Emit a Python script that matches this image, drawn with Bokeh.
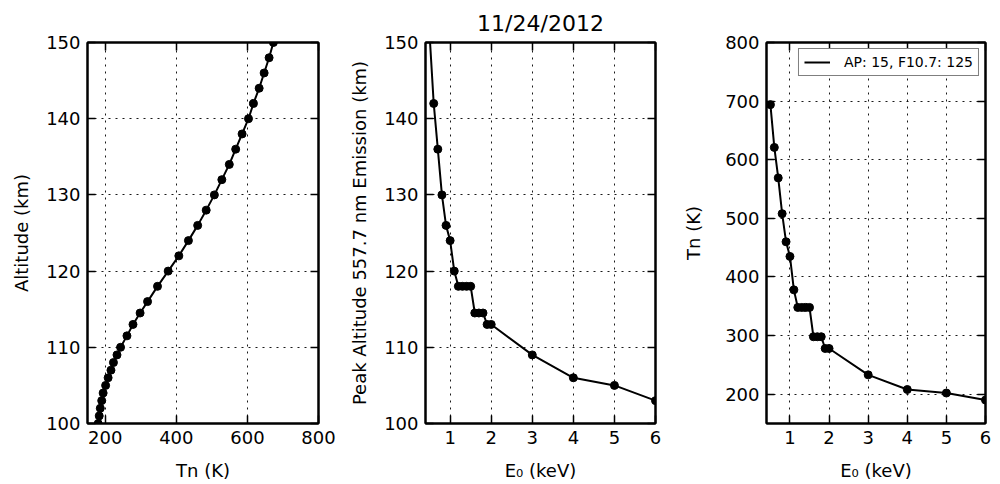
from bokeh.plotting import figure
from bokeh.layouts import row
from bokeh.models import LinearAxis, Range1d, FixedTicker
from bokeh.embed import file_html
from bokeh.resources import INLINE

# ---- data ----
profile_alt = [100, 101, 102, 103, 104, 105, 106, 107, 108, 109, 110, 111.5, 113, 114.5, 116,
               118, 120, 122, 124, 126, 128, 130, 132, 134, 136, 138, 140, 142, 144, 146, 148, 150]
profile_tn = [180, 183, 186, 190, 194, 201, 208, 216, 223, 233, 243, 261, 278, 298, 319,
              347, 377, 407, 434, 460, 484, 507, 528, 549, 567, 585, 603, 617, 633, 647, 661, 673]

e0 = [0.5, 0.6, 0.7, 0.8, 0.9, 1.0, 1.1, 1.2, 1.3, 1.4, 1.5, 1.6, 1.7, 1.8, 1.9, 2.0, 3, 4, 5, 6]
peak_alt = [151, 142, 136, 130, 126, 124, 120, 118, 118, 118, 118, 114.5, 114.5, 114.5,
            113, 113, 109, 106, 105, 103]
peak_tn = [694, 621, 569, 508, 460, 435, 378, 348, 348, 348, 348, 298, 298, 298,
           278, 278, 233, 208, 202, 190]

title_text = "11/24/2012"
legend_text = "AP: 15, F10.7: 125"
x1_ticks = [200, 400, 600, 800]
y1_ticks = [100, 110, 120, 130, 140, 150]
e_ticks = [1, 2, 3, 4, 5, 6]
y3_ticks = [200, 300, 400, 500, 600, 700, 800]

FONT = "DejaVu Sans"
H = 483
TOP = 42
BOTTOM = H - 423


def mirror_axis(ticks):
    return LinearAxis(ticker=FixedTicker(ticks=ticks),
                      major_label_text_font_size="1px", major_label_text_color=None,
                      major_label_standoff=0,
                      major_tick_in=8, major_tick_out=0, minor_tick_in=0, minor_tick_out=0,
                      major_tick_line_width=1.5, major_tick_line_color="black",
                      axis_line_width=2, axis_line_color="black")


def make_fig(width, left, right, xr, yr, xticks, yticks, xlabel, ylabel, ystand):
    p = figure(width=width, height=H, x_range=Range1d(*xr), y_range=Range1d(*yr),
               output_backend="svg", toolbar_location=None,
               min_border_left=left, min_border_right=right,
               min_border_top=TOP, min_border_bottom=BOTTOM)
    p.background_fill_color = "white"
    p.border_fill_color = "white"
    p.outline_line_color = "black"
    p.outline_line_width = 2
    for ax, ticks, lab in ((p.xaxis[0], xticks, xlabel), (p.yaxis[0], yticks, ylabel)):
        ax.ticker = FixedTicker(ticks=ticks)
        ax.axis_label = lab
        ax.axis_label_text_font = FONT
        ax.axis_label_text_font_size = "18px"
        ax.axis_label_text_font_style = "normal"
        ax.axis_label_text_color = "black"
        ax.major_label_text_font = FONT
        ax.major_label_text_font_size = "18px"
        ax.major_label_text_color = "black"
        ax.major_tick_in = 8
        ax.major_tick_out = 0
        ax.minor_tick_in = 0
        ax.minor_tick_out = 0
        ax.major_tick_line_width = 1.5
        ax.major_tick_line_color = "black"
        ax.axis_line_width = 2
        ax.axis_line_color = "black"
        ax.major_label_standoff = 7
    p.xaxis[0].axis_label_standoff = 13
    p.yaxis[0].axis_label_standoff = ystand
    p.add_layout(mirror_axis(xticks), "above")
    p.add_layout(mirror_axis(yticks), "right")
    for g in (p.xgrid[0], p.ygrid[0]):
        g.grid_line_color = "black"
        g.grid_line_width = 1
        g.grid_line_alpha = 0.9
        g.grid_line_dash = "2 5"
    return p


p1 = make_fig(340, 87, 22, (150, 800), (100, 150), x1_ticks, y1_ticks,
              "Tn (K)", "Altitude (km)", 11)
p1.line(profile_tn, profile_alt, line_color="black", line_width=2)
p1.scatter(profile_tn, profile_alt, size=8, fill_color="black", line_color="black")

p2 = make_fig(340, 85, 25, (0.4, 6), (100, 150), e_ticks, y1_ticks,
              "E\u2080 (keV)", "Peak Altitude 557.7 nm Emission (km)", 11)
p2.line(e0, peak_alt, line_color="black", line_width=2)
p2.scatter(e0, peak_alt, size=8, fill_color="black", line_color="black")
p2.title.text = title_text
p2.title.align = "center"
p2.title.vertical_align = "top"
p2.title.text_font = FONT
p2.title.text_font_size = "22px"
p2.title.text_font_style = "normal"
p2.title.text_color = "black"
p2.title.standoff = 10

p3 = make_fig(315, 74, 10, (0.4, 6), (150, 800), e_ticks, y3_ticks,
              "E\u2080 (keV)", "Tn (K)", 18)
p3.line(e0, peak_tn, line_color="black", line_width=2, legend_label=legend_text)
p3.scatter(e0, peak_tn, size=8, fill_color="black", line_color="black")
lg = p3.legend[0]
lg.location = "top_right"
lg.margin = 6
lg.padding = 5
lg.spacing = 0
lg.label_text_font = FONT
lg.label_text_font_size = "14px"
lg.label_text_color = "black"
lg.label_height = 14
lg.glyph_height = 14
lg.glyph_width = 26
lg.label_standoff = 14
lg.border_line_color = "black"
lg.border_line_width = 1.5
lg.background_fill_color = "white"
lg.background_fill_alpha = 1

layout = row(p1, p2, p3)
open("out.html", "w").write(file_html(layout, INLINE))
